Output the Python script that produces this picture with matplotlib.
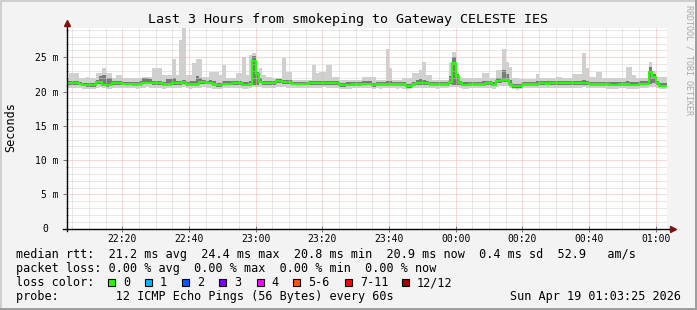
import numpy as np
import pandas as pd
import matplotlib
matplotlib.use("Agg")
import matplotlib.pyplot as plt
import matplotlib.dates as mdates
from matplotlib.patches import Rectangle
from matplotlib.lines import Line2D
from matplotlib.ticker import FixedLocator

plt.rcParams['font.family'] = ['DejaVu Sans Mono', 'DejaVu Sans']

# one value per minute, starting 22:03 (ms)
start = "2026-04-18 22:03"
view_from = "2026-04-18 22:03:25"
view_to = "2026-04-19 01:03:25"

median = [
    21.2, 21.2, 21.2, 21.25, 21.15, 21.0, 20.95, 20.9, 20.9, 21.35,
    21.45, 21.0, 20.9, 21.0, 21.2, 21.2, 21.2, 21.15, 21.15, 21.15,
    21.1, 21.1, 21.1, 21.3, 21.3, 21.3, 21.25, 21.2, 21.2, 21.1,
    21.1, 21.1, 21.2, 21.2, 21.2, 21.35, 21.1, 21.1, 21.1, 21.1,
    21.35, 21.35, 21.3, 21.3, 21.1, 20.9, 20.9, 21.15, 21.15, 21.15,
    21.2, 21.2, 21.2, 21.0, 21.0, 21.1, 24.4, 22.6, 21.45, 21.2,
    21.2, 21.2, 21.2, 21.5, 21.5, 21.35, 21.35, 21.35, 21.15, 21.15,
    21.15, 21.15, 21.15, 21.25, 21.25, 21.25, 21.25, 21.25, 21.25, 21.2,
    21.2, 21.2, 20.9, 20.9, 21.0, 21.0, 21.1, 21.1, 21.1, 21.15,
    21.15, 21.15, 20.95, 21.1, 21.1, 21.1, 21.1, 21.1, 21.1, 21.1,
    21.1, 21.1, 20.8, 20.8, 21.1, 21.2, 21.2, 21.2, 21.2, 21.1,
    21.1, 21.1, 21.1, 21.1, 21.1, 21.35, 24.2, 22.2, 21.2, 21.0,
    21.0, 21.1, 21.1, 21.1, 21.1, 21.1, 21.2, 21.2, 21.0, 21.55,
    21.55, 21.65, 21.65, 21.1, 20.8, 20.8, 20.8, 21.1, 21.1, 21.1,
    21.1, 21.1, 21.2, 21.2, 21.15, 21.2, 21.2, 21.2, 21.2, 21.2,
    21.2, 21.2, 21.2, 21.2, 21.2, 21.2, 21.2, 21.1, 21.1, 21.1,
    21.1, 21.1, 21.1, 21.0, 21.0, 21.0, 21.1, 21.1, 21.1, 21.0,
    21.0, 21.0, 21.15, 21.15, 21.15, 22.9, 22.05, 21.2, 20.85, 20.85,
    20.85]

ping_max = [
    21.9, 22.65, 22.65, 22.65, 21.9, 21.9, 22.16, 21.9, 21.9, 22.65,
    22.65, 23.4, 22.65, 22.65, 21.9, 22.4, 22.4, 21.9, 21.9, 21.9,
    22.0, 22.0, 22.0, 22.16, 22.16, 22.16, 23.5, 23.5, 23.5, 22.4,
    22.4, 22.4, 24.8, 22.4, 27.5, 29.2, 22.4, 22.4, 24.1, 24.7,
    24.7, 22.16, 22.16, 22.9, 22.9, 22.9, 22.4, 23.86, 21.92, 21.92,
    21.92, 22.65, 22.65, 25.08, 22.4, 25.3, 25.6, 22.4, 23.38, 22.4,
    22.16, 22.16, 21.92, 21.92, 21.92, 24.83, 22.89, 22.89, 21.68, 21.68,
    21.68, 21.68, 21.68, 21.68, 23.86, 22.65, 22.89, 22.89, 23.86, 23.86,
    22.16, 22.16, 21.68, 21.68, 21.68, 21.68, 21.68, 21.68, 21.68, 22.16,
    22.16, 22.16, 22.16, 21.68, 21.68, 21.68, 26.2, 23.4, 21.68, 21.68,
    21.68, 21.92, 21.92, 21.92, 22.65, 22.65, 23.14, 24.35, 22.41, 22.41,
    21.68, 21.68, 21.68, 21.68, 21.68, 24.1, 25.8, 22.89, 22.16, 21.92,
    21.92, 21.92, 21.92, 21.92, 21.92, 22.65, 22.65, 21.92, 21.92, 23.14,
    23.14, 26.2, 24.35, 23.62, 21.92, 21.92, 21.8, 21.8, 21.8, 21.8,
    21.8, 22.5, 21.92, 21.92, 21.92, 21.92, 21.92, 22.16, 22.16, 21.92,
    21.92, 21.92, 22.5, 22.5, 22.5, 25.56, 23.38, 22.16, 22.16, 22.89,
    22.89, 21.92, 21.92, 21.92, 21.92, 21.92, 21.92, 21.92, 23.62, 23.62,
    22.41, 21.92, 21.92, 21.92, 21.92, 24.3, 23.0, 22.16, 22.16, 22.16,
    22.16]

ping_min = [
    20.55, 20.55, 20.45, 20.45, 20.5, 20.4, 20.4, 20.35, 20.35, 20.5,
    20.6, 20.45, 20.35, 20.4, 20.5, 20.5, 20.55, 20.5, 20.45, 20.45,
    20.45, 20.4, 20.45, 20.55, 20.6, 20.55, 20.5, 20.5, 20.45, 20.4,
    20.45, 20.45, 20.5, 20.55, 20.5, 20.6, 20.45, 20.4, 20.45, 20.45,
    20.55, 20.6, 20.55, 20.5, 20.4, 20.3, 20.35, 20.5, 20.5, 20.45,
    20.5, 20.55, 20.5, 20.4, 20.4, 20.45, 20.6, 20.65, 20.6, 20.5,
    20.5, 20.55, 20.5, 20.6, 20.65, 20.6, 20.55, 20.55, 20.45, 20.45,
    20.5, 20.45, 20.5, 20.55, 20.55, 20.5, 20.55, 20.6, 20.55, 20.5,
    20.5, 20.5, 20.3, 20.35, 20.4, 20.4, 20.45, 20.45, 20.5, 20.5,
    20.5, 20.45, 20.35, 20.45, 20.4, 20.45, 20.5, 20.45, 20.45, 20.4,
    20.45, 20.4, 20.25, 20.3, 20.45, 20.5, 20.55, 20.5, 20.5, 20.45,
    20.45, 20.4, 20.45, 20.5, 20.45, 20.6, 20.7, 20.6, 20.5, 20.4,
    20.4, 20.45, 20.5, 20.45, 20.45, 20.5, 20.55, 20.5, 20.4, 20.7,
    20.75, 20.8, 20.75, 20.5, 20.3, 20.25, 20.3, 20.45, 20.5, 20.45,
    20.45, 20.5, 20.5, 20.55, 20.5, 20.5, 20.55, 20.5, 20.5, 20.55,
    20.5, 20.55, 20.5, 20.5, 20.55, 20.6, 20.55, 20.45, 20.45, 20.5,
    20.45, 20.45, 20.4, 20.35, 20.35, 20.4, 20.45, 20.45, 20.4, 20.35,
    20.35, 20.4, 20.45, 20.5, 20.5, 20.7, 20.6, 20.5, 20.3, 20.3,
    20.3]

q_low = [
    20.95, 20.95, 20.9, 21.0, 20.9, 20.75, 20.7, 20.65, 20.65, 21.05,
    21.15, 20.75, 20.65, 20.75, 20.95, 20.95, 20.95, 20.9, 20.9, 20.9,
    20.85, 20.85, 20.85, 21.05, 21.05, 21.05, 21.0, 20.95, 20.95, 20.85,
    20.85, 20.85, 20.95, 20.95, 20.95, 21.1, 20.85, 20.85, 20.85, 20.85,
    21.1, 21.1, 21.05, 21.05, 20.85, 20.65, 20.65, 20.9, 20.9, 20.9,
    20.95, 20.95, 20.95, 20.75, 20.75, 20.85, 20.95, 21.0, 21.2, 20.95,
    20.95, 20.95, 20.95, 21.25, 21.25, 21.1, 21.1, 21.1, 20.9, 20.9,
    20.9, 20.9, 20.9, 21.0, 21.0, 21.0, 21.0, 21.0, 21.0, 20.95,
    20.95, 20.95, 20.65, 20.65, 20.75, 20.75, 20.85, 20.85, 20.85, 20.9,
    20.9, 20.9, 20.7, 20.85, 20.85, 20.85, 20.85, 20.85, 20.85, 20.85,
    20.85, 20.85, 20.55, 20.55, 20.85, 20.95, 20.95, 20.95, 20.95, 20.85,
    20.85, 20.85, 20.85, 20.85, 20.85, 21.1, 20.95, 21.0, 20.95, 20.75,
    20.75, 20.85, 20.85, 20.85, 20.85, 20.85, 20.95, 20.95, 20.75, 21.3,
    21.3, 21.4, 21.4, 20.85, 20.55, 20.55, 20.55, 20.85, 20.85, 20.85,
    20.85, 20.85, 20.95, 20.95, 20.9, 20.95, 20.95, 20.95, 20.95, 20.95,
    20.95, 20.95, 20.95, 20.95, 20.95, 20.95, 20.95, 20.85, 20.85, 20.85,
    20.85, 20.85, 20.85, 20.75, 20.75, 20.75, 20.85, 20.85, 20.85, 20.75,
    20.75, 20.75, 20.9, 20.9, 20.9, 21.1, 21.2, 20.95, 20.6, 20.6,
    20.6]

q_high = [
    21.5, 21.6, 21.6, 21.55, 21.45, 21.3, 21.3, 21.25, 21.25, 21.7,
    22.2, 22.4, 22.0, 21.9, 21.5, 21.55, 21.5, 21.45, 21.45, 21.45,
    21.45, 21.45, 21.5, 21.9, 21.9, 21.8, 21.6, 21.55, 21.5, 21.45,
    21.8, 21.8, 21.9, 21.5, 21.6, 21.75, 21.45, 21.5, 21.6, 22.3,
    22.0, 21.7, 21.6, 21.7, 21.5, 21.3, 21.3, 21.5, 21.5, 21.5,
    21.55, 21.6, 21.6, 21.4, 21.4, 21.6, 25.2, 22.9, 21.9, 21.6,
    21.55, 21.55, 21.6, 21.85, 21.85, 21.7, 21.7, 21.7, 21.45, 21.45,
    21.45, 21.45, 21.45, 21.55, 21.6, 21.6, 21.6, 21.6, 21.6, 21.55,
    21.55, 21.5, 21.25, 21.25, 21.35, 21.35, 21.45, 21.45, 21.45, 21.5,
    21.5, 21.5, 21.3, 21.45, 21.45, 21.45, 21.6, 21.5, 21.45, 21.45,
    21.45, 21.45, 21.15, 21.15, 21.45, 21.7, 21.8, 21.7, 21.6, 21.45,
    21.45, 21.45, 21.45, 21.45, 21.45, 22.3, 25.0, 22.5, 21.55, 21.35,
    21.35, 21.45, 21.45, 21.45, 21.45, 21.5, 21.6, 21.55, 21.35, 22.0,
    22.0, 23.2, 22.5, 21.7, 21.15, 21.15, 21.15, 21.45, 21.45, 21.45,
    21.45, 21.5, 21.55, 21.55, 21.5, 21.55, 21.55, 21.55, 21.55, 21.55,
    21.55, 21.55, 21.6, 21.6, 21.6, 21.7, 21.6, 21.45, 21.45, 21.45,
    21.45, 21.45, 21.45, 21.35, 21.35, 21.35, 21.45, 21.45, 21.6, 21.35,
    21.35, 21.35, 21.5, 21.5, 21.5, 23.6, 22.6, 21.55, 21.2, 21.2,
    21.2]

assert len(median) == len(ping_max) == len(ping_min) == len(q_low) == len(q_high)

y_ticks = [0, 5, 10, 15, 20, 25]
y_labels = ['', '5 m', '10 m', '15 m', '20 m', '25 m']

loss_labels = ['0', '1', '2', '3', '4', '5-6', '7-11', '12/12']
loss_colors = ['#26ff00', '#00b8ff', '#0059ff', '#7e00ff', '#ff00ff',
               '#ff5500', '#ff0000', '#a10000']
loss_box_x = [108.3, 145, 182.3, 219.3, 256.7, 293.3, 345, 401.7]

legend_lines = [
    "median rtt:  21.2 ms avg  24.4 ms max  20.8 ms min  20.9 ms now  0.4 ms sd  52.9   am/s",
    "packet loss: 0.00 % avg  0.00 % max  0.00 % min  0.00 % now",
    "loss color:",
    "probe:        12 ICMP Echo Pings (56 Bytes) every 60s",
]

W, H = 697, 310
def fx(x): return x / W
def fy(y): return 1 - y / H

fig = plt.figure(figsize=(W / 100, H / 100), dpi=100, facecolor='#f3f3f3')
ax = fig.add_axes([fx(67), fy(228.7), 600 / W, 200.7 / H])
ax.set_facecolor('white')

edges = mdates.date2num(pd.date_range(start, periods=len(median) + 1, freq='min'))
ax.stairs(ping_max, edges, baseline=ping_min, fill=True, color='#d0d0d0', lw=0, zorder=1)
ax.stairs(q_high, edges, baseline=q_low, fill=True, color='#7a7a7a', lw=0, zorder=2)
ax.stairs(median, edges, baseline=None, color=loss_colors[0], lw=1.5, zorder=4)

ax.set_xlim(mdates.date2num(pd.Timestamp(view_from)), mdates.date2num(pd.Timestamp(view_to)))
ax.set_ylim(0, 29.26)

ax.xaxis.set_major_locator(mdates.MinuteLocator(byminute=[0, 20, 40]))
ax.xaxis.set_minor_locator(mdates.MinuteLocator(byminute=[5, 10, 15, 25, 30, 35, 45, 50, 55]))
ax.xaxis.set_major_formatter(mdates.DateFormatter('%H:%M'))
ax.yaxis.set_major_locator(FixedLocator(y_ticks))
ax.set_yticklabels(y_labels)
ax.yaxis.set_minor_locator(FixedLocator([v for v in range(1, 30) if v % 5]))

dots = (0, (1, 1))
ax.grid(which='minor', color='#d0d0d0', ls=dots, lw=0.72, zorder=5)
ax.grid(which='major', color='#f5b0b0', ls=dots, lw=0.72, zorder=6)
ax.set_axisbelow(False)

for s in ax.spines.values():
    s.set_visible(False)
ax.tick_params(which='major', length=3, width=0.7, color='#707070', labelsize=7,
               labelcolor='black')
ax.tick_params(axis='y', which='major', pad=3)
ax.tick_params(axis='x', which='major', pad=2, direction='inout', length=4)
ax.tick_params(which='minor', length=1.5, width=0.7, color='#909090', direction='inout')

# axis lines with arrows
ax.add_line(Line2D([-0.007, 1.01], [0, 0], transform=ax.transAxes, color='black',
                   lw=1, clip_on=False, zorder=7))
ax.add_line(Line2D([0, 0], [-0.012, 1.02], transform=ax.transAxes, color='black',
                   lw=1, clip_on=False, zorder=7))
ax.plot([1.01], [0], marker='>', ms=5, color='#7f1010', transform=ax.transAxes,
        clip_on=False, zorder=8)
ax.plot([0], [1.025], marker='^', ms=5, color='#7f1010', transform=ax.transAxes,
        clip_on=False, zorder=8)

fig.text(fx(45), fy(229), '0', ha='center', va='center', fontsize=7)

fig.text(fx(348), fy(20), 'Last 3 Hours from smokeping to Gateway CELESTE IES',
         ha='center', va='center', fontsize=9.6)
fig.text(fx(11), fy(127.5), 'Seconds', rotation=90, ha='center', va='center', fontsize=8.5)
fig.text(fx(689), fy(60), 'RRDTOOL / TOBI OETIKER', rotation=270, ha='center',
         va='center', fontsize=6, color='#a8a8a8')

line_y = [254.5, 268.5, 282.5, 296.7]
for txt, yy in zip(legend_lines, line_y):
    fig.text(fx(16), fy(yy), txt, ha='left', va='center', fontsize=8.5)
fig.text(fx(681), fy(line_y[3]), 'Sun Apr 19 01:03:25 2026', ha='right', va='center',
         fontsize=8.5)

for bx, col, lab in zip(loss_box_x, loss_colors, loss_labels):
    fig.patches.append(Rectangle((fx(bx), fy(285.8)), 7 / W, 7 / H, transform=fig.transFigure,
                                 facecolor=col, edgecolor='black', lw=0.8))
    fig.text(fx(bx + 15), fy(line_y[2]), lab, ha='left', va='center', fontsize=8.5)

# 3d frame
fig.patches.append(Rectangle((0, 1 - 2 / H), 1, 2 / H, transform=fig.transFigure,
                             color='#cfcfcf', lw=0))
fig.patches.append(Rectangle((0, 0), 2 / W, 1, transform=fig.transFigure,
                             color='#cfcfcf', lw=0))
fig.patches.append(Rectangle((0, 0), 1, 2 / H, transform=fig.transFigure,
                             color='#9e9e9e', lw=0))
fig.patches.append(Rectangle((1 - 2 / W, 0), 2 / W, 1, transform=fig.transFigure,
                             color='#9e9e9e', lw=0))

fig.savefig('out.png', dpi=100, facecolor=fig.get_facecolor())
